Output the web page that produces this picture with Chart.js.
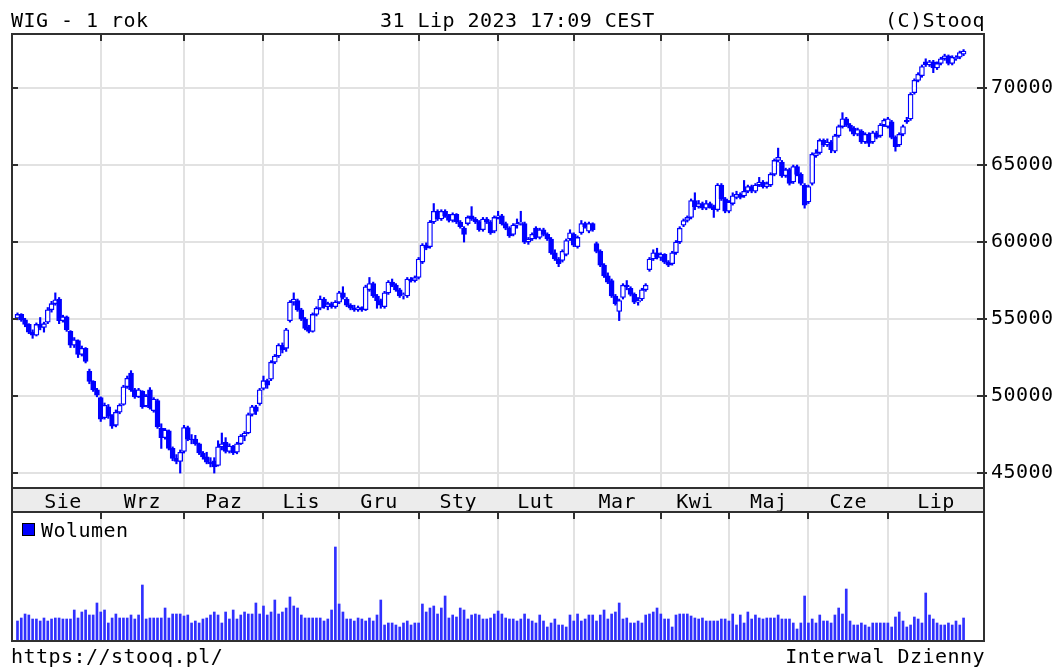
<!DOCTYPE html>
<html>
<head>
<meta charset="utf-8">
<script src="https://cdn.jsdelivr.net/npm/chart.js@4.4.1/dist/chart.umd.min.js"></script>
<style>
    body { margin: 0; background: #fff; }
    #page { position: relative; width: 1058px; height: 670px; overflow: hidden; background: #fff; }
    canvas { position: absolute; left: 0; }
    #price-chart { top: 0; }
    #volume-chart { top: 505px; }
    .txt { position: absolute; font-family: "DejaVu Sans Mono", monospace; font-size: 20px; line-height: 20px; letter-spacing: 0.45px; color: #000; white-space: pre; }
    .swatch { position: absolute; left: 22px; top: 523px; width: 11px; height: 11px; background: #0000ff; border: 1px solid #000; }
</style>
</head>
<body>
<div id="page">
    <canvas id="price-chart" width="1058" height="513"></canvas>
    <canvas id="volume-chart" width="1058" height="145"></canvas>
    <div class="txt" style="left:11px; top:10px;">WIG - 1 rok</div>
    <div class="txt" style="left:380px; top:10px;">31 Lip 2023 17:09 CEST</div>
    <div class="txt" style="right:73px; top:10px;">(C)Stooq</div>
    <div class="swatch"></div>
    <div class="txt" style="left:41px; top:520px;">Wolumen</div>
    <div class="txt" style="left:11px; top:646px;">https://stooq.pl/</div>
    <div class="txt" style="right:73px; top:646px;">Interwal Dzienny</div>
</div>
<script>
const months = ["Sie", "Wrz", "Paz", "Lis", "Gru", "Sty", "Lut", "Mar", "Kwi", "Maj", "Cze", "Lip"];
// index of the first session of each month (Wrz .. Lip)
const monthStarts = [22, 44, 65, 85, 106, 127, 147, 170, 188, 209, 230];
const priceTicks = [45000, 50000, 55000, 60000, 65000, 70000];

// daily candles: [open, high, low, close]
const sie = [
    [55050, 55400, 54950, 55300], [55300, 55350, 54850, 54950], [54950, 55050, 54500, 54650], [54650, 54700, 54050, 54150],
    [54150, 54300, 53750, 53950], [53950, 54750, 53900, 54650], [54650, 55100, 54300, 54450], [54450, 54800, 54150, 54700],
    [54800, 55750, 54700, 55600], [55600, 56150, 55450, 56000], [56000, 56700, 55900, 56250], [56300, 56400, 54700, 54900],
    [54900, 55250, 54800, 55150], [55150, 55200, 54200, 54300], [54200, 54250, 53150, 53300], [53300, 53800, 53150, 53650],
    [53600, 53650, 52500, 52700], [52700, 53250, 52600, 53100], [53100, 53150, 52150, 52250], [51600, 51750, 50800, 50950],
    [50950, 51000, 50300, 50400], [50400, 50500, 49950, 50050],
];
const wrz = [
    [49900, 49950, 48350, 48500], [48600, 49550, 48500, 49400], [49300, 49450, 48550, 48700], [48700, 48800, 47900, 48050],
    [48100, 49100, 48000, 48950], [48950, 49500, 48850, 49400], [49450, 50700, 49400, 50600], [50600, 51300, 50500, 51150],
    [51500, 51650, 50300, 50400], [50400, 50500, 49850, 49950], [49950, 50500, 49900, 50400], [50300, 50350, 49200, 49300],
    [49350, 50100, 49300, 50000], [50400, 50550, 49150, 49250], [49050, 49900, 48950, 49800], [49700, 49800, 47900, 48000],
    [47900, 48200, 46600, 47300], [47300, 47900, 47200, 47800], [47750, 47800, 46500, 46600], [46600, 46700, 45800, 45950],
    [45950, 46200, 45600, 45750], [45750, 46500, 45000, 46350],
];
const paz = [
    [46400, 48100, 46300, 47950], [47950, 48050, 47100, 47200], [47200, 47500, 46900, 47150], [47200, 47450, 46800, 46900],
    [46900, 46950, 46200, 46300], [46300, 46400, 45900, 46050], [46050, 46350, 45600, 45700], [45700, 46000, 45400, 45600],
    [45800, 46000, 45000, 45400], [45500, 47100, 45450, 46700], [46700, 47600, 46500, 46900], [47000, 47300, 46300, 46400],
    [46400, 46900, 46300, 46750], [46750, 46800, 46200, 46300], [46350, 47000, 46250, 46900], [46900, 47500, 46850, 47400],
    [47400, 47700, 47100, 47600], [47600, 48900, 47550, 48800], [48800, 49400, 48700, 49300], [49300, 49400, 48800, 49000],
    [49500, 50500, 49400, 50400],
];
const lis = [
    [50500, 51300, 50400, 51000], [51000, 51100, 50500, 50700], [51100, 52300, 51000, 52200], [52200, 52700, 52100, 52600],
    [52600, 53400, 52500, 53300], [53300, 53450, 52800, 53000], [53100, 54400, 52900, 54300], [54900, 56200, 54800, 56100],
    [56100, 56700, 55900, 56300], [56200, 56300, 55500, 55600], [55600, 55700, 54900, 55000], [55000, 55100, 54300, 54400],
    [54500, 54600, 54100, 54200], [54200, 55400, 54150, 55300], [55300, 55800, 55200, 55700], [55700, 56500, 55600, 56300],
    [56300, 56400, 55700, 55800], [55800, 56100, 55600, 56000], [56000, 56100, 55700, 55800], [55800, 56200, 55700, 56100],
];
const gru = [
    [56100, 56800, 56000, 56700], [56700, 57100, 56300, 56400], [56300, 56400, 55800, 55900], [55900, 56000, 55600, 55700],
    [55700, 55900, 55500, 55600], [55600, 55850, 55500, 55750], [55750, 55800, 55500, 55600], [55600, 57200, 55550, 57100],
    [56900, 57700, 56800, 57300], [57300, 57400, 56400, 56500], [56500, 56600, 55700, 56200], [56200, 56300, 55700, 55900],
    [55800, 56800, 55700, 56700], [56700, 57500, 56600, 57400], [57400, 57600, 57100, 57200], [57200, 57300, 56800, 56900],
    [56900, 57000, 56400, 56500], [56500, 56700, 56300, 56600], [56500, 57700, 56400, 57600], [57600, 57700, 57400, 57500],
    [57500, 57800, 57400, 57700],
];
const sty = [
    [57700, 59000, 57600, 58900], [58700, 59900, 58600, 59800], [59800, 59950, 59500, 59600], [59700, 61400, 59600, 61300],
    [61300, 62500, 61200, 62000], [62000, 62100, 61400, 61500], [61500, 62100, 61400, 62000], [62000, 62100, 61600, 61700],
    [61700, 61800, 61300, 61400], [61400, 61900, 61300, 61800], [61800, 61850, 61200, 61300], [61300, 61400, 60900, 61000],
    [60900, 61000, 60000, 60500], [61200, 61700, 61100, 61600], [61700, 62300, 61400, 61500], [61500, 61600, 61200, 61300],
    [61300, 61400, 60700, 60800], [60800, 61600, 60700, 61500], [61500, 61600, 61200, 61300], [61300, 61400, 60500, 60600],
    [60700, 61700, 60600, 61600],
];
const lut = [
    [61600, 62000, 61500, 61700], [61700, 61800, 61100, 61200], [61200, 61300, 60800, 60900], [60900, 61000, 60300, 60400],
    [60500, 61200, 60400, 61100], [61100, 61500, 60900, 61200], [61200, 62000, 61100, 61300], [61200, 61300, 59900, 60000],
    [60000, 60300, 59850, 60200], [60200, 60600, 60100, 60500], [60900, 61000, 60200, 60300], [60300, 60900, 60200, 60800],
    [60800, 60900, 60400, 60500], [60500, 60600, 60100, 60200], [60200, 60300, 59200, 59300], [59300, 59500, 58800, 58900],
    [58900, 59000, 58400, 58600], [58800, 59500, 58700, 59400], [59200, 60200, 59100, 60100], [60200, 60800, 60100, 60600],
];
const mar = [
    [60500, 60600, 59700, 59800], [59700, 60400, 59600, 60300], [60600, 61400, 60500, 61200], [61200, 61300, 60900, 61000],
    [60700, 61300, 60600, 61200], [61200, 61250, 60700, 60800], [59900, 60000, 59300, 59400], [59400, 59500, 58400, 58500],
    [58500, 58600, 57700, 57800], [57800, 58000, 57300, 57400], [57500, 57600, 56400, 56500], [56500, 56600, 55900, 56000],
    [55500, 56300, 54900, 56200], [56400, 57300, 56300, 57200], [57200, 57500, 56900, 57100], [57000, 57100, 56500, 56600],
    [56600, 56700, 56000, 56100], [56100, 56400, 55900, 56200], [56300, 57000, 56200, 56900], [56900, 57300, 56800, 57200],
    [58200, 59000, 58100, 58900], [58900, 59500, 58800, 59300], [59300, 59600, 58900, 59000],
];
const kwi = [
    [59000, 59300, 58800, 59200], [59200, 59250, 58600, 58700], [58700, 58800, 58400, 58500], [58600, 59400, 58500, 59300],
    [59300, 60100, 59200, 60000], [60000, 61000, 59900, 60900], [61100, 61500, 61000, 61400], [61400, 61700, 61300, 61600],
    [61600, 62800, 61500, 62700], [62700, 63200, 62100, 62300], [62300, 62700, 62200, 62500], [62500, 62600, 62100, 62200],
    [62200, 62700, 62100, 62500], [62500, 62600, 62200, 62300], [62300, 62400, 61600, 62100], [62100, 63800, 62000, 63700],
    [63700, 63800, 62700, 62800], [62800, 62900, 61900, 62000],
];
const maj = [
    [62000, 62700, 61900, 62600], [62500, 63200, 62400, 63000], [62900, 63300, 62800, 63100], [63100, 63200, 62800, 62900],
    [63000, 64000, 62900, 63300], [63300, 63700, 63200, 63600], [63600, 63700, 63200, 63300], [63300, 63800, 63200, 63700],
    [63700, 64200, 63600, 63900], [63900, 64000, 63500, 63600], [63600, 63900, 63500, 63800], [63700, 64500, 63600, 64400],
    [64400, 65400, 64300, 65300], [65300, 66100, 65200, 65500], [65200, 65300, 64200, 64300], [64300, 64800, 64200, 64700],
    [64700, 64800, 63700, 63800], [63900, 65000, 63800, 64900], [64900, 65000, 64300, 64400], [64400, 64500, 63700, 63800],
    [63700, 63800, 62200, 62400],
];
const cze = [
    [62600, 63700, 62500, 63600], [63800, 65800, 63700, 65700], [65600, 66000, 65500, 65800], [65800, 66700, 65700, 66600],
    [66600, 66700, 66200, 66300], [66300, 66700, 66200, 66500], [66500, 66600, 65800, 66000], [65900, 67000, 65800, 66900],
    [66900, 67600, 66800, 67500], [67500, 68400, 67400, 68000], [68000, 68100, 67500, 67600], [67600, 67700, 67200, 67400],
    [67400, 67500, 66900, 67000], [67000, 67400, 66900, 67300], [67200, 67300, 66400, 66500], [66500, 67100, 66400, 67000],
    [67000, 67100, 66200, 66400], [66500, 67200, 66400, 67100], [67100, 67200, 66700, 66800], [66900, 67700, 66800, 67600],
    [67600, 68000, 67500, 67900],
];
const lip = [
    [67500, 68100, 67400, 68000], [67800, 67900, 66700, 66800], [66800, 66900, 65900, 66200], [66300, 67100, 66200, 67000],
    [67000, 67600, 66900, 67500], [67900, 68100, 67700, 67800], [68000, 69700, 67900, 69600], [69700, 70600, 69600, 70500],
    [70500, 71000, 70400, 70900], [70800, 71500, 70700, 71400], [71700, 71900, 71400, 71500], [71500, 71800, 71400, 71700],
    [71700, 71800, 71000, 71300], [71300, 71700, 71200, 71600], [71600, 72000, 71500, 71900], [71900, 72200, 71800, 72100],
    [72100, 72150, 71500, 71600], [71600, 72100, 71500, 72000], [71900, 72100, 71800, 72000], [72000, 72400, 71900, 72300],
    [72200, 72500, 72100, 72400],
];

// daily volume (relative units)
const volSie = [20, 23, 27, 26, 22, 22, 20, 23, 20, 22, 23, 23, 22, 22, 22, 31, 23, 29, 31, 26, 26, 38];
const volWrz = [29, 31, 18, 23, 27, 23, 23, 23, 26, 22, 26, 56, 22, 23, 23, 23, 23, 33, 23, 27, 27, 27];
const volPaz = [25, 26, 18, 20, 18, 22, 23, 26, 29, 26, 18, 29, 22, 31, 22, 26, 29, 27, 27, 38, 27];
const volLis = [35, 26, 29, 41, 27, 29, 33, 44, 35, 33, 26, 23, 23, 23, 23, 23, 20, 22, 31, 94];
const volGru = [37, 29, 22, 22, 20, 23, 22, 20, 23, 20, 26, 41, 16, 18, 18, 16, 14, 18, 20, 16, 18];
const volSty = [18, 37, 29, 33, 35, 27, 33, 45, 23, 26, 24, 33, 31, 22, 26, 27, 26, 22, 22, 23, 27];
const volLut = [30, 27, 23, 22, 22, 20, 22, 27, 22, 20, 18, 26, 20, 14, 18, 22, 16, 16, 14, 26];
const volMar = [20, 27, 20, 22, 26, 26, 20, 26, 31, 22, 27, 29, 38, 22, 23, 18, 18, 20, 18, 26, 27, 29, 33];
const volKwi = [27, 22, 22, 14, 26, 27, 27, 27, 25, 23, 22, 23, 20, 20, 20, 20, 22, 22];
const volMaj = [20, 27, 16, 26, 18, 29, 22, 26, 23, 22, 23, 23, 23, 26, 22, 22, 22, 18, 12, 18, 45];
const volCze = [18, 22, 18, 26, 20, 20, 18, 26, 33, 27, 52, 20, 16, 16, 18, 16, 14, 18, 18, 18, 18];
const volLip = [18, 14, 24, 29, 20, 14, 16, 24, 22, 18, 48, 26, 22, 18, 16, 16, 18, 16, 20, 16, 23];

const candles = [].concat(sie, wrz, paz, lis, gru, sty, lut, mar, kwi, maj, cze, lip);
const volume = [].concat(volSie, volWrz, volPaz, volLis, volGru, volSty, volLut, volMar, volKwi, volMaj, volCze, volLip);

const X_MIN = -1.45;
const X_MAX = 255.4;
const BLUE = "#0000ff";
const GRID = "#e2e2e2";
const FRAME = "#303030";
const FONT = { family: "DejaVu Sans Mono", size: 20 };

// month labels sit in the middle of each month span (first span starts at session 2)
const bounds = [2, ...monthStarts, X_MAX];
const labelPos = months.map((m, i) => (bounds[i] + bounds[i + 1]) / 2);

const wicks = candles.map((c, i) => ({ x: i, y: [c[2], c[1]] }));
const bodies = candles.map((c, i) => ({ x: i, y: [c[0], c[3]] }));
const bodyFill = candles.map((c) => (c[3] >= c[0] ? "#ffffff" : BLUE));

function frameTicks(ctx, chart, withY) {
    const area = chart.chartArea;
    ctx.save();
    ctx.strokeStyle = FRAME;
    ctx.lineWidth = 2;
    const gx = chart.scales.xg || chart.scales.x;
    monthStarts.forEach((m) => {
        const px = Math.round(gx.getPixelForValue(m));
        ctx.beginPath();
        ctx.moveTo(px, area.top);
        ctx.lineTo(px, area.top + 7);
        ctx.stroke();
    });
    if (withY) {
        priceTicks.forEach((v) => {
            const py = Math.round(chart.scales.y.getPixelForValue(v));
            ctx.beginPath();
            ctx.moveTo(area.left, py);
            ctx.lineTo(area.left + 6, py);
            ctx.moveTo(area.right - 7, py);
            ctx.lineTo(area.right + 3, py);
            ctx.stroke();
        });
    }
    ctx.strokeRect(area.left, area.top, area.right - area.left, area.bottom - area.top);
    ctx.restore();
}

const pricePlugin = {
    id: "priceFrame",
    beforeDraw(chart) {
        const { ctx, chartArea } = chart;
        ctx.letterSpacing = "0.45px";
        ctx.save();
        ctx.fillStyle = "#ececec";
        ctx.fillRect(chartArea.left, chartArea.bottom, chartArea.right - chartArea.left, 24);
        ctx.strokeStyle = FRAME;
        ctx.lineWidth = 2;
        ctx.strokeRect(chartArea.left, chartArea.bottom, chartArea.right - chartArea.left, 24);
        ctx.restore();
    },
    afterDatasetsDraw(chart) {
        frameTicks(chart.ctx, chart, true);
    },
};

const volumePlugin = {
    id: "volumeFrame",
    afterDatasetsDraw(chart) {
        frameTicks(chart.ctx, chart, false);
    },
};

new Chart(document.getElementById("price-chart"), {
    type: "bar",
    data: {
        datasets: [
            {
                data: bodies,
                backgroundColor: bodyFill,
                borderColor: BLUE,
                borderWidth: 1.3,
                borderSkipped: false,
                barThickness: 5,
                grouped: false,
                order: 0,
                xAxisID: "x",
            },
            {
                data: wicks,
                backgroundColor: BLUE,
                barThickness: 1.5,
                grouped: false,
                order: 1,
                xAxisID: "x",
            },
        ],
    },
    options: {
        responsive: false,
        animation: false,
        layout: { padding: { left: 12, top: 34, right: 0, bottom: 0 } },
        plugins: { legend: { display: false }, tooltip: { enabled: false } },
        scales: {
            x: {
                type: "linear",
                position: "bottom",
                offset: false,
                min: X_MIN,
                max: X_MAX,
                afterBuildTicks(scale) {
                    scale.ticks = labelPos.map((v) => ({ value: v }));
                },
                afterFit(scale) {
                    scale.height = 25;
                },
                grid: { display: false, offset: false },
                border: { display: false },
                ticks: {
                    autoSkip: false,
                    maxRotation: 0,
                    padding: -5,
                    color: "#000",
                    font: FONT,
                    callback: (v, i) => months[i],
                },
            },
            xg: {
                type: "linear",
                position: "top",
                offset: false,
                min: X_MIN,
                max: X_MAX,
                afterBuildTicks(scale) {
                    scale.ticks = monthStarts.map((v) => ({ value: v }));
                },
                afterFit(scale) {
                    scale.height = 0;
                },
                grid: { color: GRID, lineWidth: 2, drawTicks: false, offset: false },
                border: { display: false },
                ticks: { display: false },
            },
            y: {
                position: "right",
                min: 44030,
                max: 73510,
                afterBuildTicks(scale) {
                    scale.ticks = priceTicks.map((v) => ({ value: v }));
                },
                afterFit(scale) {
                    scale.width = 74;
                },
                grid: { color: GRID, lineWidth: 2, drawTicks: false },
                border: { display: false },
                ticks: {
                    padding: 7,
                    color: "#000",
                    font: FONT,
                    callback: (v) => String(v),
                },
            },
        },
    },
    plugins: [pricePlugin],
});

new Chart(document.getElementById("volume-chart"), {
    type: "bar",
    data: {
        datasets: [
            {
                data: volume.map((v, i) => ({ x: i, y: v })),
                backgroundColor: "#3030ff",
                barThickness: 2,
            },
        ],
    },
    options: {
        responsive: false,
        animation: false,
        layout: { padding: { left: 12, top: 7, right: 74, bottom: 9 } },
        plugins: { legend: { display: false }, tooltip: { enabled: false } },
        scales: {
            x: {
                type: "linear",
                offset: false,
                min: X_MIN,
                max: X_MAX,
                afterBuildTicks(scale) {
                    scale.ticks = monthStarts.map((v) => ({ value: v }));
                },
                afterFit(scale) {
                    scale.height = 0;
                },
                grid: { color: GRID, lineWidth: 2, drawTicks: false, offset: false },
                border: { display: false },
                ticks: { display: false },
            },
            y: { display: false, min: 0, max: 129 },
        },
    },
    plugins: [volumePlugin],
});
</script>
</body>
</html>
